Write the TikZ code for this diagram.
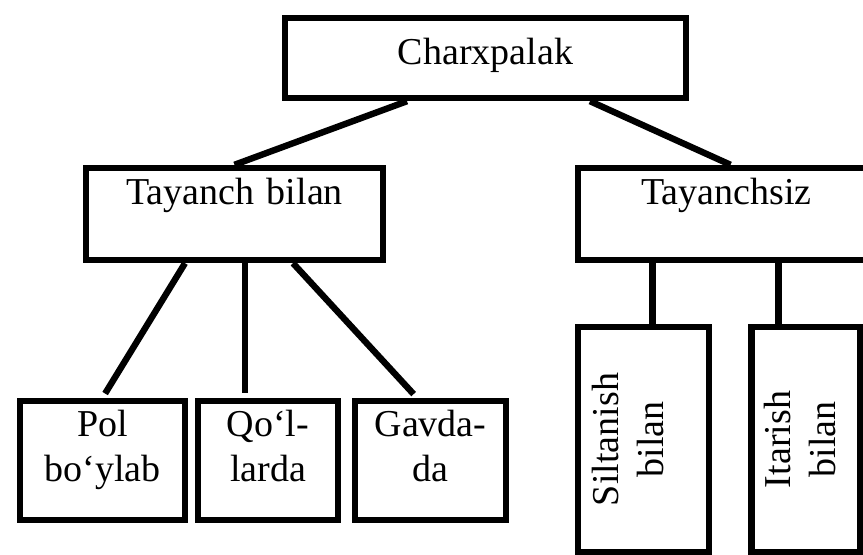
\documentclass[tikz,border=0pt]{standalone}
\usepackage{fontspec}
\setmainfont{Liberation Serif}
\usetikzlibrary{positioning}

\begin{document}
\begin{tikzpicture}[
    x=0.5pt, y=-0.5pt,
    blk/.style={rectangle, draw=black, line width=3.2pt, inner sep=0pt,
                align=center, font=\fontsize{19}{22.5}\selectfont},
    sub/.style={blk, text height=18pt, text depth=41.5pt},
    lnk/.style={line width=3.2pt}
]
    \useasboundingbox (0,0) rectangle (863,555);
    \clip (0,0) rectangle (863,555);

    \node[blk, text width=200.5pt, text height=23.5pt, text depth=16.5pt] (ch) at (485.5,58) {Charxpalak};
    \node[blk, text width=148.5pt, text height=18.5pt, text depth=27.5pt] (tb) at (234.5,214) {Tayanch bilan};
    \node[blk, text width=148.5pt, text height=18.5pt, text depth=27.5pt] (ts) at (726.5,214) {Tayanchsiz};

    \node[sub, text width=82.5pt] (pol) at (102.5,460.5) {Pol\\bo‘ylab};
    \node[sub, text width=70pt, right=3.3pt of pol] (qol) {Qo‘l-\\larda};
    \node[sub, text width=75.5pt, right=5.3pt of qol] (gav) {Gavda-\\da};

    \node[blk, rotate=90, text width=112.5pt, text height=20pt, text depth=45.5pt] (sil) at (643.5,439.5) {Siltanish\\bilan};
    \node[blk, rotate=90, text width=112.5pt, text height=19.5pt, text depth=35pt] (ita) at (806,439.5) {Itarish\\bilan};

    \draw[lnk] ([xshift=-39.25pt]ch.south) -- (tb.north);
    \draw[lnk] ([xshift=52.25pt]ch.south) -- ([xshift=2pt]ts.north);

    \draw[lnk, shorten >=2.5pt] ([xshift=-24.75pt]tb.south) -- (pol.north);
    \draw[lnk, shorten >=2.5pt] ([xshift=5.25pt]tb.south) -- ([xshift=5.25pt]tb.south |- qol.north);
    \draw[lnk, shorten >=2.5pt] ([xshift=29.25pt]tb.south) -- ([xshift=-6.75pt]gav.north);

    \draw[lnk] ([xshift=-37pt]ts.south) -- ([xshift=-37pt]ts.south |- sil.east);
    \draw[lnk] ([xshift=26pt]ts.south) -- ([xshift=26pt]ts.south |- ita.east);
\end{tikzpicture}
\end{document}
